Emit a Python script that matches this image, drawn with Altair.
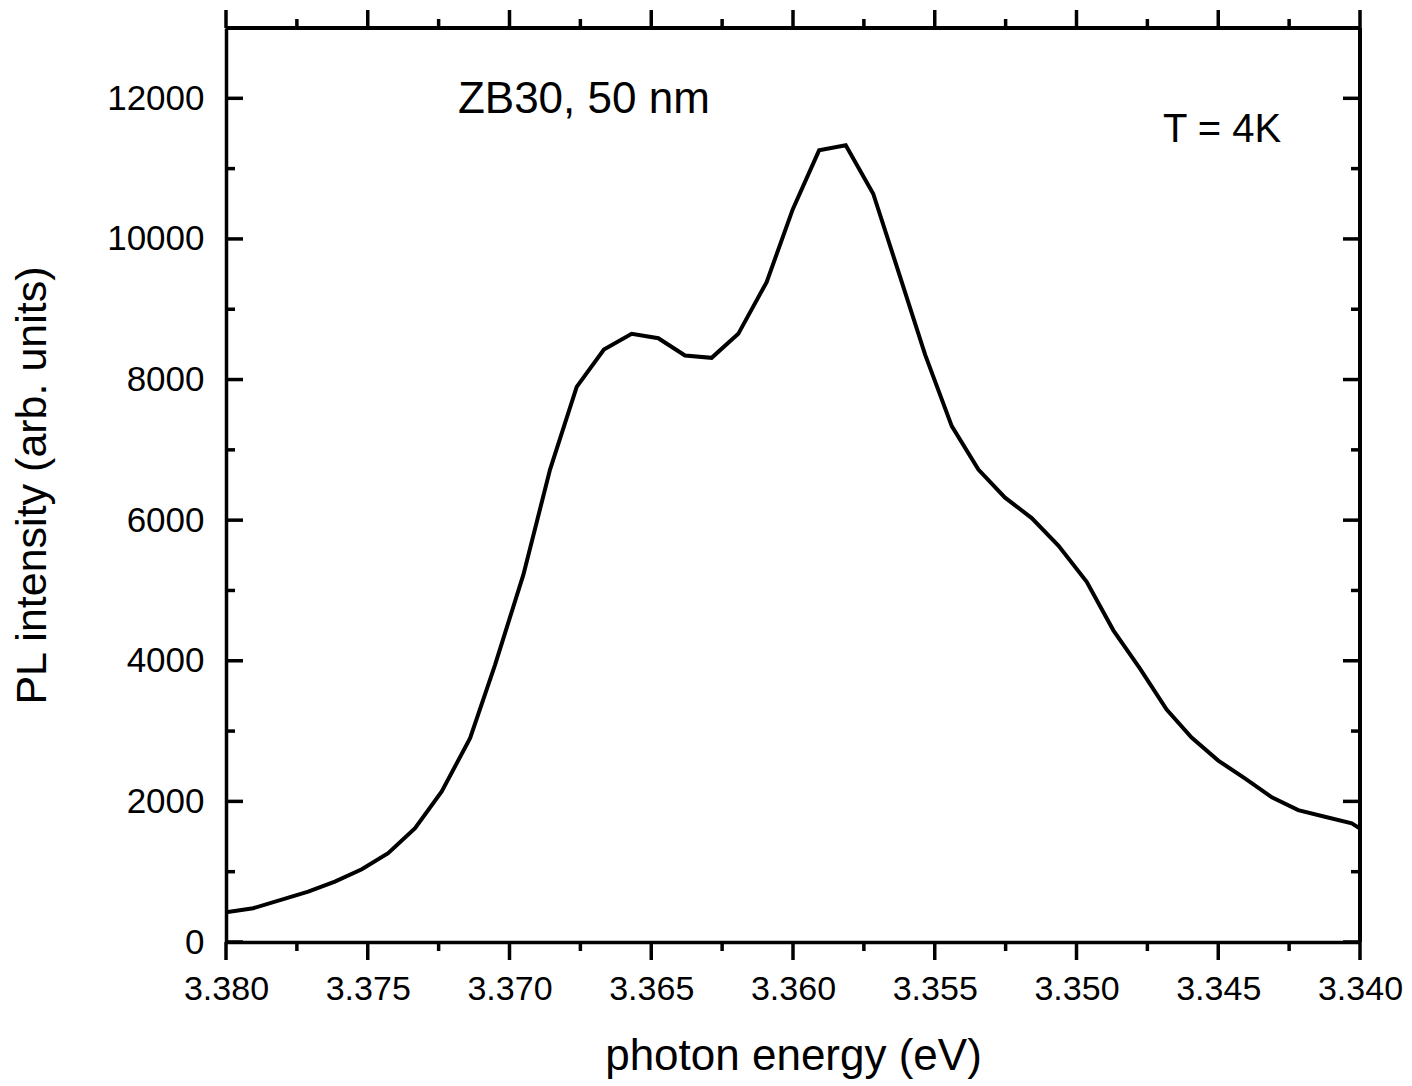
import altair as alt
import pandas as pd

# photon energy (eV) and PL intensity (arb. units)
energy = [3.38000, 3.37904, 3.37710, 3.37616, 3.37521, 3.37428, 3.37333, 3.37239,
          3.37139, 3.37051, 3.36951, 3.36857, 3.36763, 3.36667, 3.36569, 3.36475,
          3.36381, 3.36287, 3.36193, 3.36093, 3.36001, 3.35908, 3.35814, 3.35717,
          3.35623, 3.35534, 3.35440, 3.35346, 3.35252, 3.35158, 3.35064, 3.34964,
          3.34870, 3.34776, 3.34682, 3.34594, 3.34500, 3.34406, 3.34311, 3.34218,
          3.34124, 3.34029, 3.34000]
intensity = [423, 480, 716, 858, 1035, 1263, 1619, 2140,
             2900, 3943, 5224, 6719, 7896, 8427, 8650, 8588,
             8342, 8309, 8650, 9385, 10420, 11260, 11331, 10643,
             9471, 8354, 7338, 6720, 6320, 6030, 5638, 5123,
             4433, 3888, 3307, 2907, 2581, 2326, 2058, 1876,
             1782, 1687, 1614]

x_major = [3.380, 3.375, 3.370, 3.365, 3.360, 3.355, 3.350, 3.345, 3.340]
x_minor = [3.3775, 3.3725, 3.3675, 3.3625, 3.3575, 3.3525, 3.3475, 3.3425]
y_major = [0, 2000, 4000, 6000, 8000, 10000, 12000]
y_minor = [1000, 3000, 5000, 7000, 9000, 11000]

notes_text = ["ZB30, 50 nm", "T = 4K"]
notes_x = [3.37182, 3.34695]
notes_y = [11980, 11544]
notes_size = [44, 40]

W, H = 1134, 914
FONT = "Liberation Sans"
SW = 3.5

df = pd.DataFrame({"E": energy, "I": intensity})
xmaj = pd.DataFrame({"E": x_major})
xmin = pd.DataFrame({"E": x_minor})
ymaj = pd.DataFrame({"I": y_major})
ymin = pd.DataFrame({"I": y_minor})
notes = pd.DataFrame({"t": notes_text, "E": notes_x, "I": notes_y, "s": notes_size})

xscale = alt.Scale(domain=[3.34, 3.38], reverse=True, nice=False, zero=False)
yscale = alt.Scale(domain=[0, 13000], nice=False)

line = alt.Chart(df).mark_line(color="black", strokeWidth=4, clip=True,
                               strokeJoin="miter").encode(
    x=alt.X("E:Q", scale=xscale,
            axis=alt.Axis(title="photon energy (eV)", values=x_major, format=".3f",
                          ticks=False, tickSize=0, grid=False, labelPadding=30,
                          labelFontSize=34, titleFontSize=44, titleFontWeight="normal",
                          titlePadding=28, domainColor="black", domainWidth=SW,
                          labelColor="black", titleColor="black",
                          labelFont=FONT, titleFont=FONT, labelOverlap=False,
                          labelFlush=False)),
    y=alt.Y("I:Q", scale=yscale,
            axis=alt.Axis(title="PL intensity (arb. units)", values=y_major, format="d",
                          ticks=False, tickSize=0, grid=False, labelPadding=22,
                          labelFontSize=35, titleFontSize=43, titleFontWeight="normal",
                          titlePadding=52, domainColor="black", domainWidth=SW,
                          labelColor="black", titleColor="black",
                          labelFont=FONT, titleFont=FONT, labelOverlap=False,
                          labelFlush=False)),
)

def xticks(data, y0, y1):
    return alt.Chart(data).mark_rule(color="black", strokeWidth=SW).encode(
        x=alt.X("E:Q", scale=xscale), y=alt.value(y0), y2=alt.value(y1))

def yticks(data, x0, x1):
    return alt.Chart(data).mark_rule(color="black", strokeWidth=SW).encode(
        y=alt.Y("I:Q", scale=yscale), x=alt.value(x0), x2=alt.value(x1))

ticks = [
    xticks(xmaj, H, H + 18), xticks(xmin, H, H + 9),
    xticks(xmaj, 0, -18), xticks(xmin, 0, -9),
    yticks(ymaj, 0, 17), yticks(ymin, 0, 9),
    yticks(ymaj, W - 17, W), yticks(ymin, W - 9, W),
]

# top and right frame lines
frame_top = alt.Chart(xmaj).mark_rule(color="black", strokeWidth=SW).encode(
    x=alt.value(0), x2=alt.value(W), y=alt.value(0))
frame_right = alt.Chart(xmaj).mark_rule(color="black", strokeWidth=SW).encode(
    x=alt.value(W), y=alt.value(0), y2=alt.value(H))

text = alt.Chart(notes).mark_text(align="left", baseline="middle", font=FONT,
                                  color="black").encode(
    x=alt.X("E:Q", scale=xscale), y=alt.Y("I:Q", scale=yscale),
    text="t:N", size=alt.Size("s:Q", scale=None, legend=None))

chart = alt.layer(line, *ticks, frame_top, frame_right, text).properties(
    width=W, height=H,
    autosize=alt.AutoSizeParams(type="none"),
    padding={"left": 218, "top": 20, "right": 44, "bottom": 142},
).configure_view(stroke=None).configure(background="white")

chart.save("out.html", embed_options={"renderer": "svg", "actions": False})
